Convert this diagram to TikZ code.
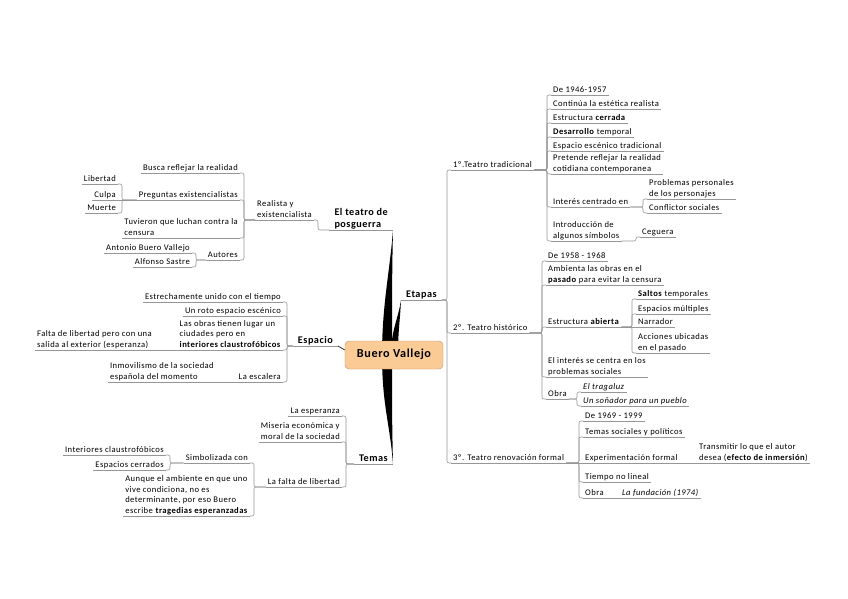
\documentclass[tikz,border=0pt]{standalone}
\usepackage{fontspec}
\setmainfont{Carlito}[LetterSpace=5]
\usetikzlibrary{backgrounds}
\definecolor{linegray}{RGB}{150,150,150}
\definecolor{rootfill}{RGB}{251,203,150}
\definecolor{rootline}{RGB}{185,145,105}
\begin{document}
\begin{tikzpicture}[x=1pt, y=-1pt,
  every node/.style={font=\fontsize{8.6}{10.5}\selectfont, inner xsep=2pt,
    inner ysep=1pt, text depth=1.5pt, align=left},
  ul/.style={draw=linegray, line width=0.6pt},
  rtopic/.style={anchor=south west, append after command={
    (\tikzlastnode.south west) edge[ul] (\tikzlastnode.south east)}},
  ltopic/.style={anchor=south east, append after command={
    (\tikzlastnode.south west) edge[ul] (\tikzlastnode.south east)}},
  main/.style={font=\fontsize{10.2}{12}\selectfont\bfseries, inner xsep=5pt},
  link/.style={draw=linegray, line width=0.6pt, rounded corners=2pt},
  root/.style={draw=rootline, fill=rootfill, rounded corners=4pt,
    minimum width=98pt, minimum height=28pt, text depth=2.5pt, text height=8pt,
    font=\fontsize{12.2}{14}\selectfont\bfseries}]
\useasboundingbox (0,0) rectangle (848,599);

% centre and main topics
\node[root] (bv) at (394,355) {Buero Vallejo};
\node[main, ltopic] (pos) at (393,230) {El teatro de\\posguerra};
\node[main, rtopic] (eta) at (401,300) {Etapas};
\node[main, ltopic] (esp) at (338,346) {Espacio};
\node[main, ltopic] (tem) at (393,464) {Temas};

\begin{scope}[on background layer]
  \fill ([xshift=-12pt]bv.center) .. controls +(0,-50) and +(-3,40) .. (pos.south east)
    .. controls +(-1,40) and +(0,-50) .. ([xshift=-2pt]bv.center) -- cycle;
  \fill ([xshift=-3pt]bv.center) .. controls +(0,-25) and +(-3,20) .. (eta.south west)
    .. controls +(-1,22) and +(0,-25) .. ([xshift=4pt]bv.center) -- cycle;
  \fill ([xshift=-12pt]bv.center) .. controls +(0,50) and +(-3,-40) .. (tem.south east)
    .. controls +(-1,-40) and +(0,50) .. ([xshift=-2pt]bv.center) -- cycle;
\end{scope}
\draw[line width=0.8pt, draw=black!80] (esp.south east) -- ([yshift=5pt]bv.west);

% Etapas
\node[rtopic] (t1) at (451,170) {1º.Teatro tradicional};
\node[rtopic] (t2) at (451,333) {2º. Teatro histórico};
\node[rtopic] (t3) at (451,463) {3º. Teatro renovación formal};
\foreach \c in {t1,t2,t3}
  \draw[link] (eta.south east) -| ([xshift=-4pt]\c.south west) -- (\c.south west);

% 1. teatro tradicional
\node[rtopic] (a1) at (551,95) {De 1946-1957};
\node[rtopic] (a2) at (551,109) {Continúa la estética realista};
\node[rtopic] (a3) at (551,123) {Estructura \textbf{cerrada}};
\node[rtopic] (a4) at (551,137) {\textbf{Desarrollo} temporal};
\node[rtopic] (a5) at (551,151) {Espacio escénico tradicional};
\node[rtopic] (a6) at (551,174) {Pretende reflejar la realidad\\cotidiana contemporanea};
\node[rtopic] (a7) at (551,207) {Interés centrado en};
\node[rtopic] (a8) at (551,241) {Introducción de\\algunos símbolos};
\node[rtopic] (b1) at (647,199) {Problemas personales\\de los personajes};
\node[rtopic] (b2) at (647,213) {Conflictor sociales};
\node[rtopic] (b3) at (640,237) {Ceguera};
\foreach \c in {a1,a2,a3,a4,a5,a6,a7,a8}
  \draw[link] (t1.south east) -| ([xshift=-4pt]\c.south west) -- (\c.south west);
\foreach \c in {b1,b2}
  \draw[link] (a7.south east) -| ([xshift=-4pt]\c.south west) -- (\c.south west);
\draw[link] (a8.south east) -| ([xshift=-4pt]b3.south west) -- (b3.south west);

% 2. teatro historico
\node[rtopic] (c1) at (546,261) {De 1958 - 1968};
\node[rtopic] (c2) at (546,285) {Ambienta las obras en el\\\textbf{pasado} para evitar la censura};
\node[rtopic] (c3) at (546,327) {Estructura \textbf{abierta}};
\node[rtopic] (c4) at (546,377) {El interés se centra en los\\problemas sociales};
\node[rtopic] (c5) at (546,399) {Obra};
\node[rtopic] (d1) at (636,299) {\textbf{Saltos} temporales};
\node[rtopic] (d2) at (636,314) {Espacios múltiples};
\node[rtopic] (d3) at (636,327) {Narrador};
\node[rtopic] (d4) at (636,353) {Acciones ubicadas\\en el pasado};
\node[rtopic] (e1) at (581,392) {\textit{El tragaluz}};
\node[rtopic] (e2) at (581,406) {\textit{Un soñador para un pueblo}};
\foreach \c in {c1,c2,c3,c4,c5}
  \draw[link] (t2.south east) -| ([xshift=-4pt]\c.south west) -- (\c.south west);
\foreach \c in {d1,d2,d4}
  \draw[link] (c3.south east) -| ([xshift=-4pt]\c.south west) -- (\c.south west);
\draw[link] (c3.south east) -- (d3.south west);
\foreach \c in {e1,e2}
  \draw[link] (c5.south east) -| ([xshift=-4pt]\c.south west) -- (\c.south west);

% 3. teatro renovacion formal
\node[rtopic] (f1) at (583,421) {De 1969 - 1999};
\node[rtopic] (f2) at (583,437) {Temas sociales y políticos};
\node[rtopic] (f3) at (583,463) {Experimentación formal};
\node[rtopic] (f4) at (583,482) {Tiempo no lineal};
\node[rtopic] (f5) at (583,498) {Obra};
\node[rtopic] (g1) at (697,463) {Transmitir lo que el autor\\desea (\textbf{efecto de inmersión})};
\node[rtopic] (g2) at (620,498) {\textit{La fundación (1974)}};
\foreach \c in {f1,f2,f4,f5}
  \draw[link] (t3.south east) -| ([xshift=-4pt]\c.south west) -- (\c.south west);
\draw[link] (t3.south east) -- (f3.south west);
\draw[link] (f3.south east) -- (g1.south west);
\draw[link] (f5.south east) -- (g2.south west);

% El teatro de posguerra
\node[ltopic] (rea) at (314,220) {Realista y\\existencialista};
\node[ltopic] (h1) at (240,173) {Busca reflejar la realidad};
\node[ltopic] (h2) at (240,200) {Preguntas existencialistas};
\node[ltopic] (h3) at (240,238) {Tuvieron que luchan contra la\\censura};
\node[ltopic] (h4) at (240,260) {Autores};
\node[ltopic] (i1) at (118,184) {Libertad};
\node[ltopic] (i2) at (118,200) {Culpa};
\node[ltopic] (i3) at (118,213) {Muerte};
\node[ltopic] (j1) at (192,253) {Antonio Buero Vallejo};
\node[ltopic] (j2) at (192,267) {Alfonso Sastre};
\draw[link] (pos.south west) -| ([xshift=4pt]rea.south east) -- (rea.south east);
\foreach \c in {h1,h2,h3,h4}
  \draw[link] (rea.south west) -| ([xshift=4pt]\c.south east) -- (\c.south east);
\foreach \c in {i1,i3}
  \draw[link] (h2.south west) -| ([xshift=4pt]\c.south east) -- (\c.south east);
\draw[link] (h2.south west) -- (i2.south east);
\foreach \c in {j1,j2}
  \draw[link] (h4.south west) -| ([xshift=4pt]\c.south east) -- (\c.south east);

% Espacio
\node[ltopic] (k1) at (283,302) {Estrechamente unido con el tiempo};
\node[ltopic] (k2) at (283,316) {Un roto espacio escénico};
\node[ltopic] (k3) at (283,350) {Las obras tienen lugar un\\ciudades pero en\\\textbf{interiores claustrofóbicos}};
\node[ltopic] (k4) at (283,382) {La escalera};
\node[ltopic] (l1) at (154,350) {Falta de libertad pero con una\\salida al exterior (esperanza)};
\node[ltopic] (l2) at (216,382) {Inmovilismo de la sociedad\\española del momento};
\foreach \c in {k1,k2,k3,k4}
  \draw[link] (esp.south west) -| ([xshift=4pt]\c.south east) -- (\c.south east);
\draw[link] (k3.south west) -- (l1.south east);
\draw[link] (k4.south west) -- (l2.south east);

% Temas
\node[ltopic] (m1) at (342,416) {La esperanza};
\node[ltopic] (m2) at (342,442) {Miseria económica y\\moral de la sociedad};
\node[ltopic] (m3) at (342,487) {La falta de libertad};
\node[ltopic] (n1) at (250,463) {Simbolizada con};
\node[ltopic] (n2) at (250,516) {Aunque el ambiente en que uno\\vive condiciona, no es\\determinante, por eso Buero\\escribe \textbf{tragedias esperanzadas}};
\node[ltopic] (o1) at (166,455) {Interiores claustrofóbicos};
\node[ltopic] (o2) at (166,470) {Espacios cerrados};
\foreach \c in {m1,m2,m3}
  \draw[link] (tem.south west) -| ([xshift=4pt]\c.south east) -- (\c.south east);
\foreach \c in {n1,n2}
  \draw[link] (m3.south west) -| ([xshift=4pt]\c.south east) -- (\c.south east);
\foreach \c in {o1,o2}
  \draw[link] (n1.south west) -| ([xshift=4pt]\c.south east) -- (\c.south east);
\end{tikzpicture}
\end{document}
